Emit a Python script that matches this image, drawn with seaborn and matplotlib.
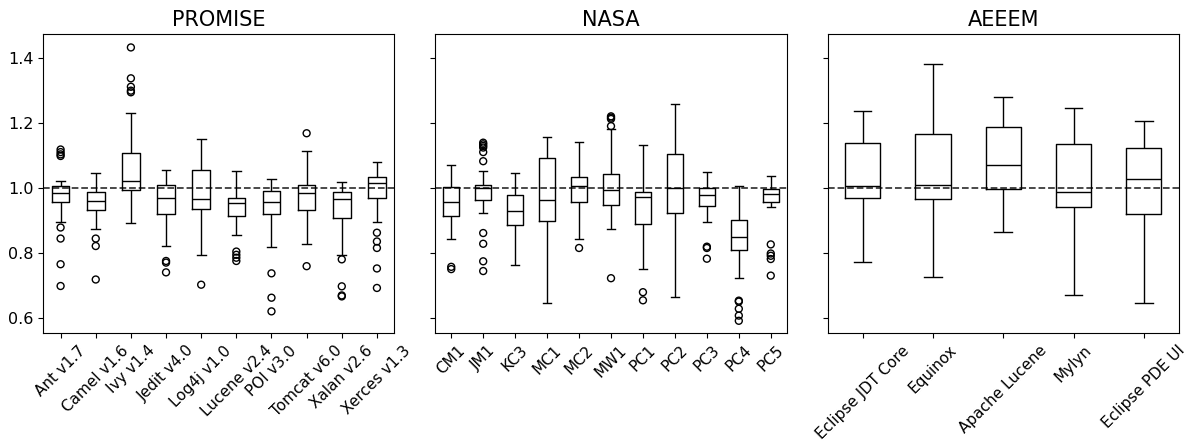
import numpy as np
import pandas as pd
import matplotlib
matplotlib.use("Agg")
import matplotlib.pyplot as plt
import seaborn as sns

plt.rcParams['font.family'] = ['DejaVu Sans']

# ---- PROMISE ----
promise_names = ["Ant v1.7", "Camel v1.6", "Ivy v1.4", "Jedit v4.0", "Log4j v1.0",
                 "Lucene v2.4", "POI v3.0", "Tomcat v6.0", "Xalan v2.6", "Xerces v1.3"]
# five-number summaries: low whisker, Q1, median, Q3, high whisker
promise_low = [0.894, 0.872, 0.891, 0.822, 0.794, 0.856, 0.817, 0.826, 0.793, 0.894]
promise_q1 = [0.956, 0.932, 0.994, 0.921, 0.935, 0.913, 0.920, 0.931, 0.906, 0.969]
promise_med = [0.985, 0.961, 1.022, 0.968, 0.966, 0.954, 0.957, 0.984, 0.967, 1.016]
promise_q3 = [1.005, 0.987, 1.107, 1.008, 1.054, 0.968, 0.990, 1.008, 0.987, 1.033]
promise_high = [1.022, 1.046, 1.230, 1.055, 1.151, 1.052, 1.026, 1.113, 1.018, 1.078]
promise_out = [
    [1.118, 1.110, 1.103, 1.098, 0.878, 0.844, 0.765, 0.698],
    [0.844, 0.821, 0.718],
    [1.432, 1.337, 1.311, 1.299, 1.294],
    [0.775, 0.770, 0.740],
    [0.702],
    [0.804, 0.794, 0.785, 0.775],
    [0.737, 0.662, 0.620],
    [1.168, 0.759],
    [0.780, 0.697, 0.669, 0.666],
    [0.862, 0.835, 0.815, 0.752, 0.692],
]

# ---- NASA ----
nasa_names = ["CM1", "JM1", "KC3", "MC1", "MC2", "MW1", "PC1", "PC2", "PC3", "PC4", "PC5"]
nasa_low = [0.842, 0.922, 0.764, 0.645, 0.844, 0.874, 0.749, 0.665, 0.895, 0.723, 0.942]
nasa_q1 = [0.912, 0.964, 0.886, 0.897, 0.956, 0.947, 0.890, 0.924, 0.943, 0.808, 0.956]
nasa_med = [0.956, 1.000, 0.930, 0.963, 1.006, 0.994, 0.971, 1.000, 0.978, 0.848, 0.982]
nasa_q3 = [1.004, 1.009, 0.978, 1.092, 1.034, 1.043, 0.987, 1.104, 1.000, 0.901, 0.996]
nasa_high = [1.069, 1.051, 1.046, 1.157, 1.141, 1.181, 1.133, 1.259, 1.048, 1.007, 1.037]
nasa_out = [
    [0.757, 0.750],
    [1.139, 1.134, 1.129, 1.124, 1.110, 1.082, 0.861, 0.828, 0.774, 0.744],
    [],
    [],
    [0.815],
    [1.220, 1.216, 1.212, 1.190, 0.722],
    [0.679, 0.654],
    [],
    [0.819, 0.815, 0.782],
    [0.653, 0.650, 0.628, 0.607, 0.591],
    [0.826, 0.798, 0.791, 0.781, 0.730],
]

# ---- AEEEM ----
aeeem_names = ["Eclipse JDT Core", "Equinox", "Apache Lucene", "Mylyn", "Eclipse PDE UI"]
aeeem_low = [0.772, 0.726, 0.865, 0.669, 0.646]
aeeem_q1 = [0.970, 0.966, 0.996, 0.941, 0.920]
aeeem_med = [1.007, 1.008, 1.070, 0.988, 1.028]
aeeem_q3 = [1.138, 1.166, 1.188, 1.136, 1.123]
aeeem_high = [1.235, 1.382, 1.279, 1.246, 1.206]
aeeem_out = [[], [], [], [], []]

groups = [
    ("PROMISE", promise_names, promise_low, promise_q1, promise_med, promise_q3, promise_high, promise_out),
    ("NASA", nasa_names, nasa_low, nasa_q1, nasa_med, nasa_q3, nasa_high, nasa_out),
    ("AEEEM", aeeem_names, aeeem_low, aeeem_q1, aeeem_med, aeeem_q3, aeeem_high, aeeem_out),
]

fig, axes = plt.subplots(1, 3, figsize=(11.95, 4.43), dpi=100, sharey=True)
fig.subplots_adjust(left=0.036, right=0.9866, top=0.923, bottom=0.248, wspace=0.116)

for ax, (title, names, lo, q1, med, q3, hi, outs) in zip(axes, groups):
    rows = []
    for i, n in enumerate(names):
        for v in (lo[i], q1[i], med[i], q3[i], hi[i]):
            rows.append({"dataset": n, "value": v})
    box_df = pd.DataFrame(rows)
    out_rows = [{"dataset": n, "value": v} for n, vs in zip(names, outs) for v in vs]
    out_df = pd.DataFrame(out_rows, columns=["dataset", "value"])

    sns.boxplot(data=box_df, x="dataset", y="value", order=names, ax=ax,
                whis=(0, 100), showfliers=False, fill=False, color="black",
                linecolor="black", linewidth=1.0, width=0.5)
    if len(out_df):
        sns.stripplot(data=out_df, x="dataset", y="value", order=names, ax=ax,
                      jitter=False, marker="o", size=5, facecolors="none",
                      edgecolor="black", linewidth=1.0)
    ax.axhline(1.0, ls="--", color="#3a3a3a", lw=1.3, zorder=0.5)
    ax.set_title(title, fontsize=15, color="black")
    ax.set_xlabel("")
    ax.set_ylabel("")
    ax.set_xlim(-0.5, len(names) - 0.5)
    ax.tick_params(axis="x", labelrotation=45, labelsize=11, colors="black")
    ax.tick_params(axis="y", labelsize=11.5, colors="black")
    for s in ax.spines.values():
        s.set_visible(True)
        s.set_color("black")
        s.set_linewidth(0.8)

axes[0].set_ylim(0.553, 1.473)
axes[0].set_yticks([0.6, 0.8, 1.0, 1.2, 1.4])

fig.savefig("out.png", dpi=100)
